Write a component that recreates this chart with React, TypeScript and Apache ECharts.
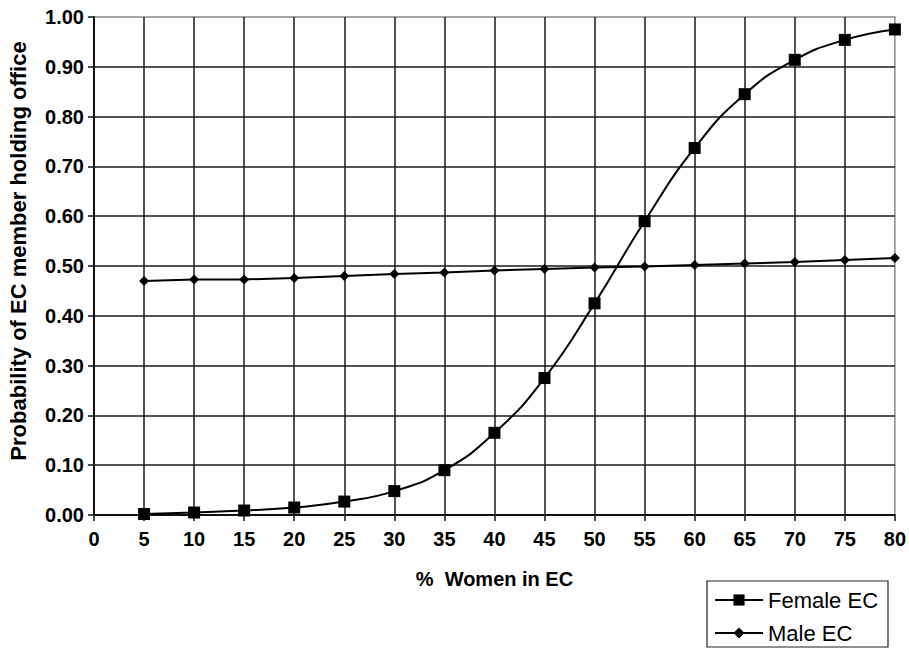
import React, { useEffect, useRef } from "react";
import * as echarts from "echarts";

const xValues = [5, 10, 15, 20, 25, 30, 35, 40, 45, 50, 55, 60, 65, 70, 75, 80];
const femaleEC = [0.002, 0.005, 0.009, 0.015, 0.027, 0.048, 0.09, 0.165, 0.275, 0.425, 0.59, 0.737, 0.845, 0.914, 0.954, 0.975];
const maleEC = [0.47, 0.473, 0.473, 0.476, 0.48, 0.484, 0.487, 0.491, 0.494, 0.497, 0.499, 0.502, 0.505, 0.508, 0.512, 0.516];
const seriesNames = ["Female EC", "Male EC"];
const yTitle = "Probability of EC member holding office";
const xTitle = "%  Women in EC";

const FONT = "'Liberation Sans', Arial, sans-serif";

export default function App() {
  const ref = useRef<HTMLDivElement>(null);
  useEffect(() => {
    if (!ref.current) return;
    const chart = echarts.init(ref.current, undefined, { renderer: "svg" });
    const pairs = (ys: number[]) => xValues.map((x, i) => [x, ys[i]]);
    const legendBase = {
      orient: "horizontal",
      left: 714,
      padding: 0,
      itemWidth: 48,
      itemHeight: 14,
      textStyle: { fontFamily: FONT, fontSize: 22, color: "#000" },
    };
    chart.setOption({
      animation: false,
      backgroundColor: "#ffffff",
      grid: {
        left: 94,
        right: 14,
        top: 17,
        bottom: 134,
        show: true,
        borderColor: "#8a8a8a",
        borderWidth: 1.5,
      },
      graphic: [
        {
          type: "rect",
          shape: { x: 707, y: 581, width: 181, height: 66 },
          style: { fill: "#fff", stroke: "#222", lineWidth: 1.2 },
          z: 0,
        },
        {
          type: "text",
          x: 18,
          y: 251,
          rotation: Math.PI / 2,
          style: {
            text: yTitle,
            fontFamily: FONT,
            fontWeight: "bold",
            fontSize: 22,
            fill: "#000",
            align: "center",
            verticalAlign: "middle",
          },
        },
      ],
      xAxis: {
        type: "value",
        min: 0,
        max: 80,
        interval: 5,
        name: xTitle,
        nameLocation: "middle",
        nameGap: 54,
        nameTextStyle: { fontFamily: FONT, fontWeight: "bold", fontSize: 20, color: "#000" },
        axisLine: { show: true, onZero: false, lineStyle: { color: "#111", width: 2 } },
        axisTick: { show: true, length: 6, lineStyle: { color: "#111", width: 1.5 } },
        axisLabel: { fontFamily: FONT, fontWeight: "bold", fontSize: 20, color: "#000", margin: 14 },
        splitLine: { show: true, showMaxLine: false, lineStyle: { color: "#1a1a1a", width: 1.5 } },
      },
      yAxis: {
        type: "value",
        min: 0,
        max: 1,
        interval: 0.1,
        axisLine: { show: true, lineStyle: { color: "#111", width: 2 } },
        axisTick: { show: true, length: 6, lineStyle: { color: "#111", width: 1.5 } },
        axisLabel: {
          fontFamily: FONT,
          fontWeight: "bold",
          fontSize: 20,
          color: "#000",
          margin: 10,
          formatter: (v: number) => v.toFixed(2),
        },
        splitLine: { show: true, showMaxLine: false, lineStyle: { color: "#1a1a1a", width: 1.5 } },
      },
      legend: [
        { ...legendBase, top: 589, data: [seriesNames[0]] },
        { ...legendBase, top: 622, data: [seriesNames[1]] },
      ],
      series: [
        {
          name: seriesNames[0],
          type: "line",
          data: pairs(femaleEC),
          smooth: true,
          symbol: "rect",
          symbolSize: 12,
          itemStyle: { color: "#000" },
          lineStyle: { color: "#000", width: 2 },
          z: 3,
        },
        {
          name: seriesNames[1],
          type: "line",
          data: pairs(maleEC),
          smooth: false,
          symbol: "diamond",
          symbolSize: 10,
          itemStyle: { color: "#000" },
          lineStyle: { color: "#000", width: 2 },
          z: 3,
        },
      ],
    });
    return () => chart.dispose();
  }, []);
  return (
    <div
      ref={ref}
      style={{ position: "fixed", left: 0, top: 0, width: 909, height: 649, background: "#fff" }}
    />
  );
}
